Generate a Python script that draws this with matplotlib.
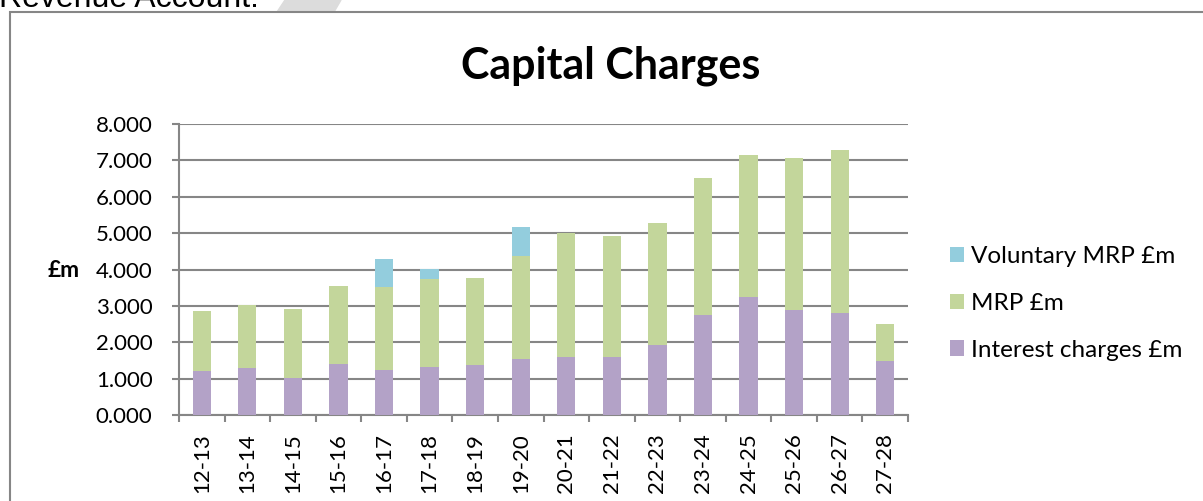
import matplotlib
matplotlib.use('Agg')
import matplotlib.pyplot as plt
from matplotlib.patches import Rectangle, Polygon
import numpy as np

years = ['12-13', '13-14', '14-15', '15-16', '16-17', '17-18', '18-19', '19-20',
         '20-21', '21-22', '22-23', '23-24', '24-25', '25-26', '26-27', '27-28']
interest = [1.21, 1.30, 1.03, 1.41, 1.25, 1.33, 1.37, 1.54,
            1.59, 1.59, 1.92, 2.76, 3.25, 2.88, 2.81, 1.49]
mrp = [1.65, 1.73, 1.88, 2.14, 2.28, 2.42, 2.41, 2.84,
       3.40, 3.33, 3.35, 3.76, 3.89, 4.19, 4.47, 1.02]
voluntary = [0, 0, 0, 0, 0.76, 0.26, 0, 0.78,
             0, 0, 0, 0, 0, 0, 0, 0]


def main():
    plt.rcParams['font.family'] = ['Lato', 'DejaVu Sans']
    W, H = 1203, 501
    fig = plt.figure(figsize=(W / 100, H / 100), dpi=100)

    # bits of the page around the chart
    fig.patches.append(Polygon([(285 / W, 1), (341 / W, 1), (334 / W, 1 - 12 / H), (277 / W, 1 - 12 / H)],
                               closed=True, transform=fig.transFigure, color='#dcdcdc', zorder=0))
    fig.text(-1 / W, 1 - 7 / H, 'Revenue Account.', fontsize=23, family='Liberation Sans',
             va='baseline', ha='left', color='black')
    fig.patches.append(Rectangle((10 / W, -0.2), 1.2, 1.2 - 12 / H, transform=fig.transFigure,
                                 fill=False, edgecolor='#868686', lw=1.5, zorder=1))

    ax = fig.add_axes([179 / W, 86 / H, 729 / W, 291 / H])
    x = np.arange(len(years))
    grey = '#868686'
    interest_a = np.array(interest)
    mrp_a = np.array(mrp)
    vol_a = np.array(voluntary)

    b1 = ax.bar(x, interest_a, 0.4, color='#b3a2c7', zorder=3)
    b2 = ax.bar(x, mrp_a, 0.4, bottom=interest_a, color='#c3d69b', zorder=3)
    b3 = ax.bar(x, vol_a, 0.4, bottom=interest_a + mrp_a, color='#93cddd', zorder=3)

    ax.set_xlim(-0.5, len(years) - 0.5)
    ax.set_ylim(0, 8)
    ax.set_yticks(range(9))
    ax.set_yticklabels(['%.3f' % v for v in range(9)], fontsize=16)
    ax.set_xticks(x)
    ax.set_xticklabels(years, rotation=90, fontsize=16, va='top')
    ax.set_xticks(np.arange(-0.5, len(years)), minor=True)
    ax.tick_params(axis='x', which='major', length=0, pad=13)
    ax.tick_params(axis='x', which='minor', length=5, width=1.5, color=grey)
    ax.tick_params(axis='y', length=5, width=1.5, color=grey, pad=14)

    ax.grid(axis='y', color=grey, lw=1.5, zorder=0)
    ax.set_axisbelow(True)
    for s in ['top', 'right']:
        ax.spines[s].set_visible(False)
    for s in ['left', 'bottom']:
        ax.spines[s].set_color(grey)
        ax.spines[s].set_linewidth(1.5)

    fig.text(611 / W, 1 - 78 / H, 'Capital Charges', fontsize=31, fontweight='bold',
             ha='center', va='baseline')
    fig.text(48 / W, 1 - 277 / H, '£m', fontsize=16.5, fontweight='bold', ha='left', va='baseline')

    fig.legend([b3, b2, b1], ['Voluntary MRP £m', 'MRP £m', 'Interest charges £m'],
               loc='center left', bbox_to_anchor=(950 / W, 1 - 303.5 / H), frameon=False,
               fontsize=17.5, handlelength=0.58, handleheight=0.58, handletextpad=0.3,
               labelspacing=1.05, borderpad=0, borderaxespad=0)

    fig.savefig('out.png', dpi=100)


if __name__ == '__main__':
    main()
